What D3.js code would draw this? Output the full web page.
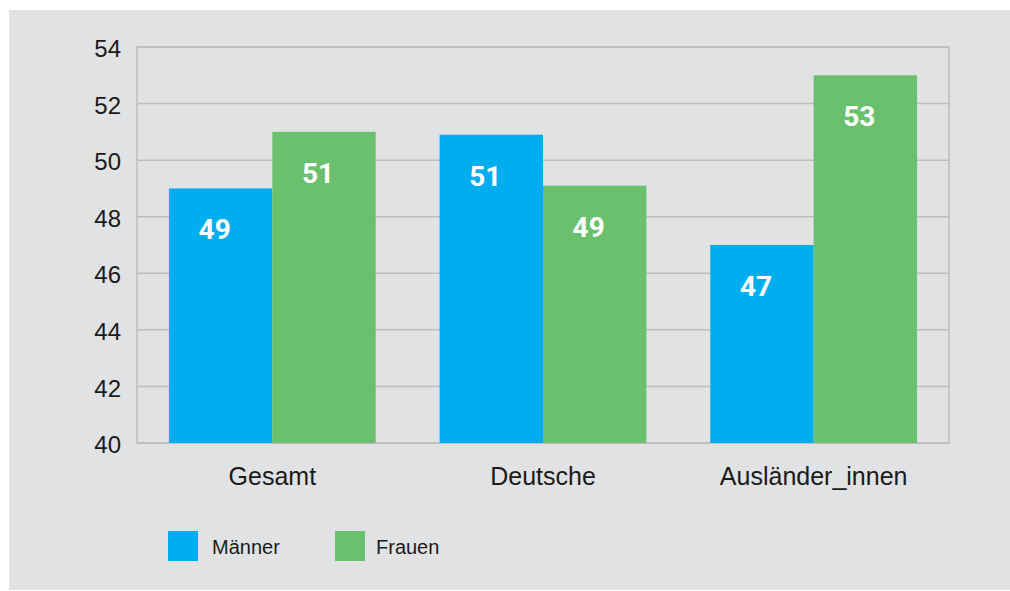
<!DOCTYPE html>
<html>
<head>
<meta charset="utf-8">
<script src="https://cdn.jsdelivr.net/npm/d3@7"></script>
<style>
  body { margin: 0; background: #fff; }
  svg { display: block; }
</style>
</head>
<body>
<svg id="chart" width="1010" height="591"></svg>
<script>
// data
const categories = ["Gesamt", "Deutsche", "Ausländer_innen"];
const seriesNames = ["Männer", "Frauen"];
const maenner = [49.0, 50.9, 47.0];
const frauen = [51.0, 49.1, 53.0];
const barLabels = [["49", "51"], ["51", "49"], ["47", "53"]];
const yTicks = [40, 42, 44, 46, 48, 50, 52, 54];

const colors = ["#00aeef", "#6bc06e"];
const width = 1010, height = 591;
const margin = { top: 47, right: 61, bottom: 148, left: 137 };
const innerW = width - margin.left - margin.right;
const innerH = height - margin.top - margin.bottom;

const rows = categories.map((c, i) => ({ cat: c, values: [maenner[i], frauen[i]], labels: barLabels[i] }));

const svg = d3.select("#chart");

// panel background
svg.append("rect")
    .attr("x", 9).attr("y", 10)
    .attr("width", width - 9).attr("height", 580)
    .attr("fill", "#e1e2e4");

const g = svg.append("g").attr("transform", `translate(${margin.left},${margin.top})`);

const x0 = d3.scaleBand()
    .domain(categories)
    .range([0, innerW])
    .paddingInner(0.236)
    .paddingOuter(0.118);

const x1 = d3.scaleBand()
    .domain(seriesNames)
    .range([0, x0.bandwidth()]);

const y = d3.scaleLinear()
    .domain([40, 54])
    .range([innerH, 0]);

// grid
g.append("g")
    .selectAll("line")
    .data(yTicks)
    .join("line")
    .attr("x1", 0).attr("x2", innerW)
    .attr("y1", d => y(d)).attr("y2", d => y(d))
    .attr("stroke", "#bcbdbf")
    .attr("stroke-width", 1.5);

// frame
g.append("rect")
    .attr("width", innerW).attr("height", innerH)
    .attr("fill", "none")
    .attr("stroke", "#bcbdbf")
    .attr("stroke-width", 1.5);

// y axis labels
const yAxis = g.append("g")
    .call(d3.axisLeft(y).tickValues(yTicks).tickSize(0).tickPadding(16));
yAxis.select(".domain").remove();
yAxis.selectAll("text")
    .attr("dy", "0.4em")
    .style("font", "300 24px 'Liberation Sans', Arial, sans-serif")
    .attr("fill", "#1a1a1a");

// bars
const groups = g.append("g")
    .selectAll("g")
    .data(rows)
    .join("g")
    .attr("transform", d => `translate(${x0(d.cat)},0)`);

groups.selectAll("rect")
    .data(d => d.values.map((v, i) => ({ key: seriesNames[i], value: v, label: d.labels[i], idx: i })))
    .join("rect")
    .attr("x", d => x1(d.key))
    .attr("y", d => y(d.value))
    .attr("width", x1.bandwidth())
    .attr("height", d => innerH - y(d.value))
    .attr("fill", d => colors[d.idx]);

groups.selectAll("text")
    .data(d => d.values.map((v, i) => ({ key: seriesNames[i], value: v, label: d.labels[i] })))
    .join("text")
    .attr("x", d => x1(d.key) + x1.bandwidth() / 2 - 6)
    .attr("y", d => y(d.value) + 51)
    .attr("text-anchor", "middle")
    .attr("fill", "#fff")
    .style("font", "bold 28px Roboto, 'Liberation Sans', sans-serif")
    .text(d => d.label);

// x axis labels
const xAxis = g.append("g")
    .attr("transform", `translate(0,${innerH})`)
    .call(d3.axisBottom(x0).tickSize(0).tickPadding(0));
xAxis.select(".domain").remove();
xAxis.selectAll("text")
    .attr("dy", 0)
    .attr("y", 42)
    .style("font", "300 25px 'Liberation Sans', Arial, sans-serif")
    .attr("fill", "#1a1a1a");

// legend
const legendX = [168, 335];
const legend = svg.append("g")
    .selectAll("g")
    .data(seriesNames)
    .join("g")
    .attr("transform", (d, i) => `translate(${legendX[i]},531)`);
legend.append("rect")
    .attr("width", 30).attr("height", 30)
    .attr("fill", (d, i) => colors[i]);
legend.append("text")
    .attr("x", (d, i) => i === 0 ? 44 : 41)
    .attr("y", 23)
    .style("font", "20px 'Liberation Sans', Arial, sans-serif")
    .attr("fill", "#1a1a1a")
    .text(d => d);
</script>
</body>
</html>
